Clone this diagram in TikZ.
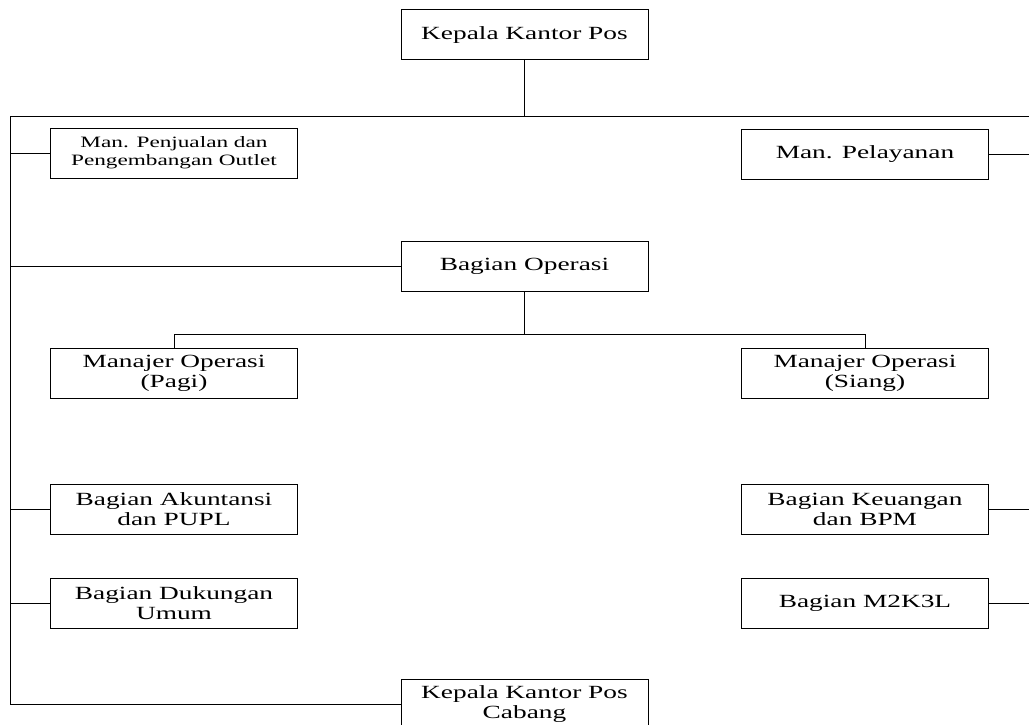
\documentclass[tikz,border=0pt]{standalone}
\usepackage{fontspec}
\setmainfont{Liberation Serif}[FakeStretch=1.47]
\begin{document}
\begin{tikzpicture}[x=1pt,y=-1pt,
  box/.style={draw=black,line width=1pt,rectangle,inner sep=0pt,
    minimum width=247pt,minimum height=50pt,align=center,
    font=\fontsize{18.6}{20}\selectfont},
  smallbox/.style={box,font=\fontsize{15.8}{18}\selectfont},
  conn/.style={draw=black,line width=1pt}]
\useasboundingbox (0,0) rectangle (1029,725);
\fill[white] (0,0) rectangle (1029,725);

\node[box] (kkp) at (524.5,35) {Kepala Kantor Pos};
\node[smallbox] (mpj) at (174,153) {Man. Penjualan dan\\Pengembangan Outlet};
\node[box] (mpl) at (865,154) {Man. Pelayanan};
\node[box] (bo) at (524.5,266) {Bagian Operasi};
\node[box] (mop) at (174,373) {Manajer Operasi\\(Pagi)};
\node[box] (mos) at (865,373) {Manajer Operasi\\(Siang)};
\node[box] (bak) at (174,509.5) {Bagian Akuntansi\\dan PUPL};
\node[box] (bku) at (865,509.5) {Bagian Keuangan\\dan BPM};
\node[box] (bdu) at (174,603) {Bagian Dukungan\\Umum};
\node[box] (m2k) at (865,603) {Bagian M2K3L};
\node[box] (kkpc) at (524.5,704) {Kepala Kantor Pos\\Cabang};

\coordinate (tl) at (10,116);
\coordinate (tr) at (1029,116);
\coordinate (opbus) at (524.5,334);

\draw[conn] (kkp.south) |- (tl) -- (tl |- kkpc.west) -- (kkpc.west);
\draw[conn] (kkp.south) |- (tr);
\draw[conn] (mpj.west) -- (mpj.west -| tl);
\draw[conn] (bo.west) -- (bo.west -| tl);
\draw[conn] (bak.west) -- (bak.west -| tl);
\draw[conn] (bdu.west) -- (bdu.west -| tl);
\draw[conn] (mpl.east) -- (mpl.east -| tr);
\draw[conn] (bku.east) -- (bku.east -| tr);
\draw[conn] (m2k.east) -- (m2k.east -| tr);
\draw[conn] (bo.south) -- (opbus);
\draw[conn] (mop.north) -- (mop.north |- opbus) -- (mos.north |- opbus) -- (mos.north);
\end{tikzpicture}
\end{document}
